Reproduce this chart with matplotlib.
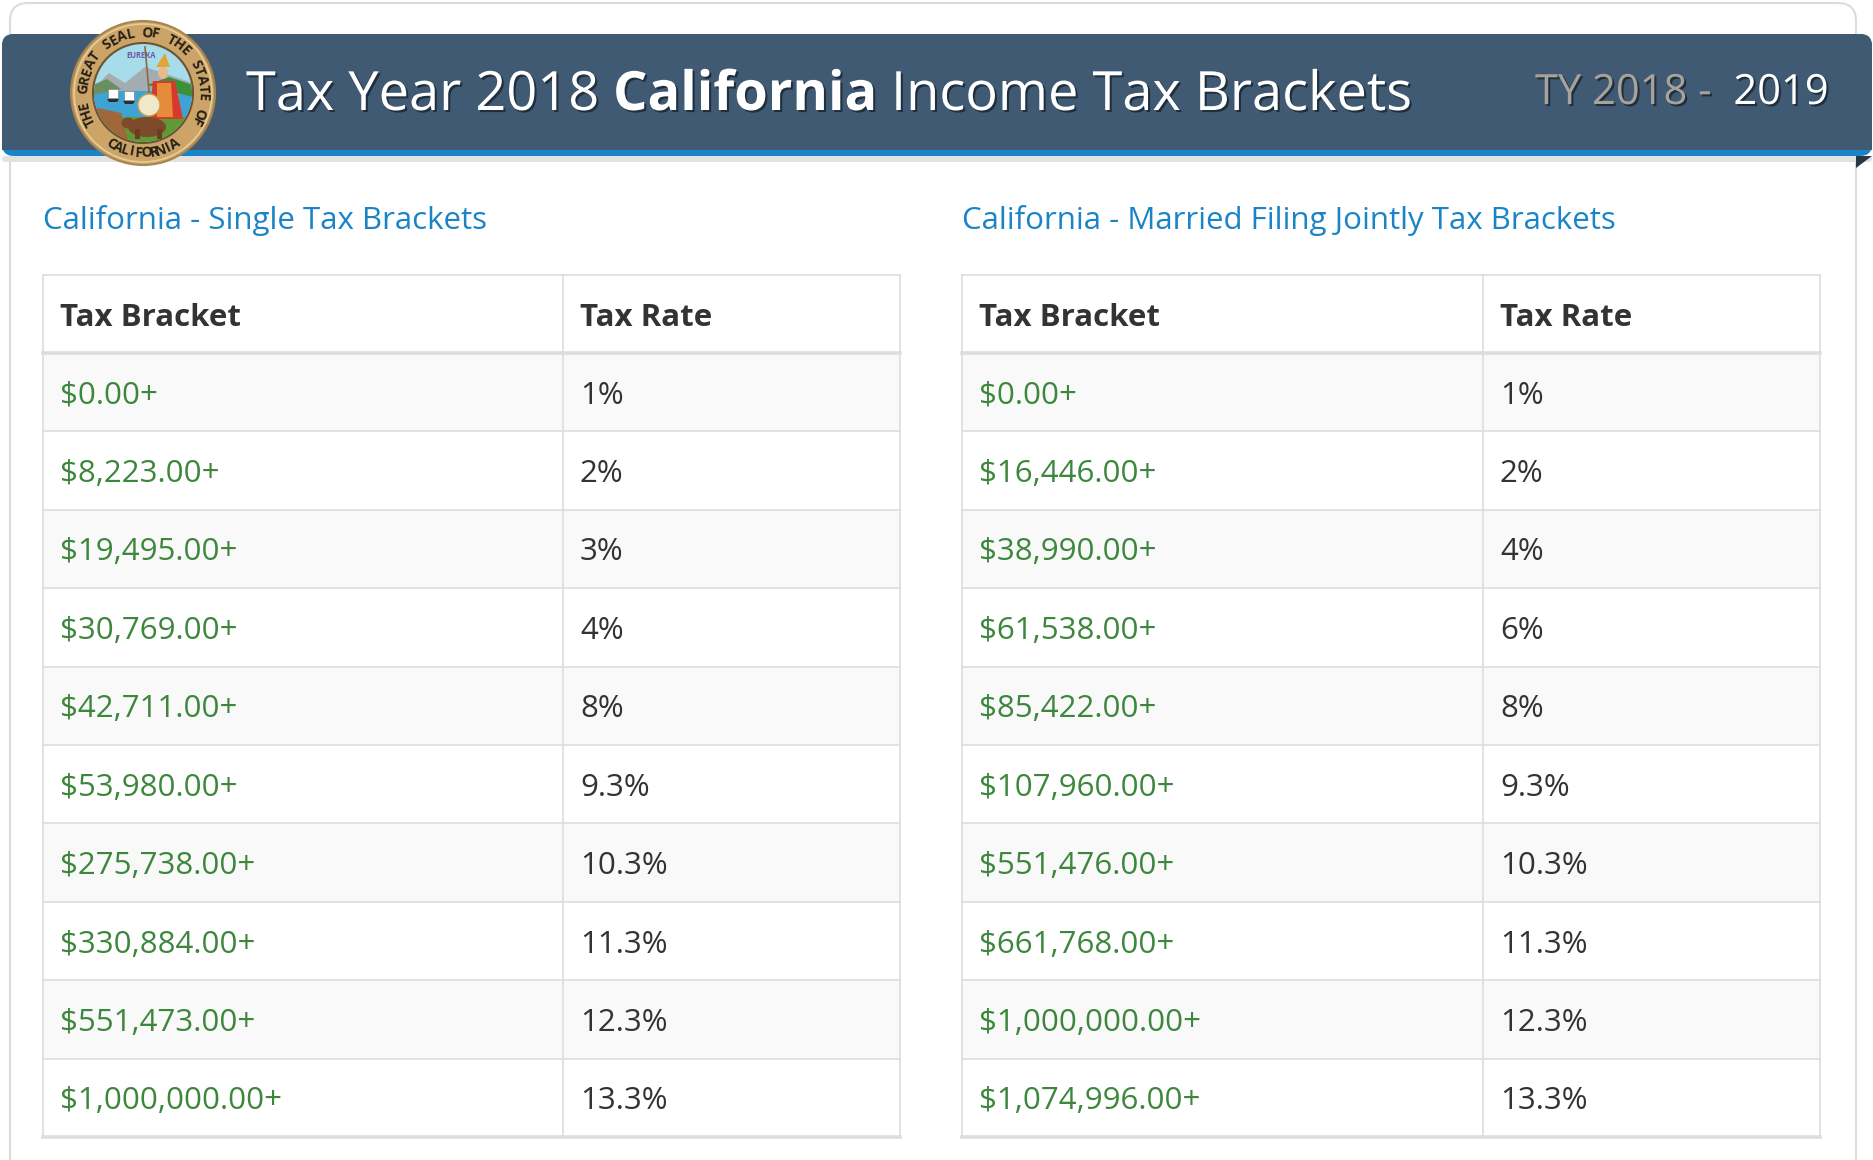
import matplotlib
matplotlib.use("Agg")
import matplotlib.pyplot as plt
import matplotlib.patheffects as pe
from matplotlib.patches import Rectangle, FancyBboxPatch, Circle, Polygon, Ellipse
import numpy as np

# ---- data ----
single_brackets = ["$0.00+", "$8,223.00+", "$19,495.00+", "$30,769.00+", "$42,711.00+",
                   "$53,980.00+", "$275,738.00+", "$330,884.00+", "$551,473.00+", "$1,000,000.00+"]
single_rates = ["1%", "2%", "3%", "4%", "8%", "9.3%", "10.3%", "11.3%", "12.3%", "13.3%"]

joint_brackets = ["$0.00+", "$16,446.00+", "$38,990.00+", "$61,538.00+", "$85,422.00+",
                  "$107,960.00+", "$551,476.00+", "$661,768.00+", "$1,000,000.00+", "$1,074,996.00+"]
joint_rates = ["1%", "2%", "4%", "6%", "8%", "9.3%", "10.3%", "11.3%", "12.3%", "13.3%"]

col_headers = ["Tax Bracket", "Tax Rate"]
table_titles = ["California - Single Tax Brackets", "California - Married Filing Jointly Tax Brackets"]

FONT = "Open Sans"
W, H = 1874, 1160

fig = plt.figure(figsize=(W / 100, H / 100), dpi=100)
ax = fig.add_axes([0, 0, 1, 1])
ax.set_xlim(0, W)
ax.set_ylim(H, 0)
ax.axis("off")
fig.patch.set_facecolor("white")

# outer card
ax.add_patch(FancyBboxPatch((10, 3), 1846, 1300, boxstyle="round,pad=0,rounding_size=18",
                            fc="white", ec="#dcdcdc", lw=1.5, zorder=0))

# header ribbon
ax.add_patch(FancyBboxPatch((2, 156), 1870, 6, boxstyle="round,pad=0,rounding_size=3",
                            fc="#e2e2e2", ec="none", zorder=1))
ax.add_patch(FancyBboxPatch((2, 34), 1870, 122, boxstyle="round,pad=0,rounding_size=12",
                            fc="#1a84c6", ec="none", zorder=2))
ax.add_patch(FancyBboxPatch((2, 34), 1870, 116, boxstyle="round,pad=0,rounding_size=12",
                            fc="#3f5a72", ec="none", zorder=3))
ax.add_patch(Rectangle((2, 120), 1870, 30, fc="#3f5a72", ec="none", zorder=3))
ax.add_patch(Polygon([(1856, 156), (1872, 156), (1856, 168)], closed=True,
                     fc="#2a3846", ec="none", zorder=3))

# ---- seal ----
cx, cy, r = 143, 93, 72
ax.add_patch(Circle((cx, cy), r, fc="#cca467", ec="#a9854d", lw=1.5, zorder=5))
ax.add_patch(Circle((cx, cy), r - 3, fc="none", ec="#e6cc98", lw=1.2, zorder=6))
ax.add_patch(Circle((cx, cy), r - 22, fc="#a7dcea", ec="#6b5433", lw=1.5, zorder=6))
inner = Circle((cx, cy), r - 23, transform=ax.transData)
scene = [
    Polygon([(cx - 50, cy - 4), (cx - 34, cy - 20), (cx - 18, cy - 10), (cx + 2, cy - 26),
             (cx + 50, cy - 10), (cx + 50, cy + 10), (cx - 50, cy + 10)], fc="#a3acb0", ec="none"),
    Rectangle((cx - 50, cy - 2), 100, 30, fc="#3ea3d2", ec="none"),
    Polygon([(cx - 50, cy - 8), (cx - 36, cy - 14), (cx - 22, cy - 4), (cx - 50, cy + 2)],
            fc="#6b8f5f", ec="none"),
    Polygon([(cx + 4, cy - 8), (cx + 26, cy - 16), (cx + 50, cy - 8), (cx + 50, cy + 4)],
            fc="#3f8f3a", ec="none"),
    Rectangle((cx - 50, cy + 24), 100, 30, fc="#5f9a35", ec="none"),
    Polygon([(cx - 50, cy + 14), (cx - 22, cy + 20), (cx - 14, cy + 50), (cx - 50, cy + 50)],
            fc="#a0683a", ec="none"),
]
for p in scene:
    p.set_zorder(7)
    ax.add_patch(p)
    p.set_clip_path(inner)
# ships
for sx, sy in ((cx - 30, cy + 2), (cx - 14, cy + 4), (cx + 30, cy + 6)):
    ax.add_patch(Polygon([(sx - 6, sy + 4), (sx + 6, sy + 4), (sx + 4, sy + 7), (sx - 4, sy + 7)],
                         fc="#2d2d2d", ec="none", zorder=8))
    ax.add_patch(Rectangle((sx - 5, sy - 6), 10, 9, fc="white", ec="#777777", lw=0.4, zorder=8))
# minerva figure
ax.add_patch(Ellipse((cx + 20, cy - 20), 10, 12, fc="#e9b98a", ec="none", zorder=9))
ax.add_patch(Polygon([(cx + 13, cy - 26), (cx + 27, cy - 26), (cx + 22, cy - 40)],
                     fc="#e0a536", ec="none", zorder=9))
ax.add_patch(Polygon([(cx + 10, cy - 12), (cx + 32, cy - 12), (cx + 40, cy + 26), (cx + 6, cy + 26)],
                     fc="#d7392c", ec="none", zorder=9))
ax.add_patch(Polygon([(cx + 14, cy - 10), (cx + 28, cy - 10), (cx + 30, cy + 24), (cx + 14, cy + 24)],
                     fc="#e58b3a", ec="none", zorder=9))
ax.add_patch(Circle((cx + 6, cy + 12), 11, fc="#f1e7c9", ec="#c9a24e", lw=1, zorder=10))
ax.plot([cx + 2, cx + 8], [cy - 46, cy + 20], color="#8a6b3a", lw=1.2, zorder=9)
# bear
ax.add_patch(Ellipse((cx + 4, cy + 34), 38, 20, fc="#7d4b2a", ec="none", zorder=10))
ax.add_patch(Ellipse((cx - 15, cy + 30), 13, 11, fc="#7d4b2a", ec="none", zorder=10))
for lx in (cx - 8, cx + 14):
    ax.add_patch(Rectangle((lx, cy + 36), 5, 10, fc="#6b3e22", ec="none", zorder=10))
ax.text(cx - 2, cy - 38, "EUREKA", fontsize=5.5, color="#6a5aa8", ha="center", va="center",
        family=FONT, weight="bold", zorder=9)

# ring lettering
def arc_text(s, start_deg, end_deg, rad, bottom=False):
    angs = np.linspace(start_deg, end_deg, len(s))
    for ch, a in zip(s, angs):
        t = np.deg2rad(a)
        x = cx + rad * np.cos(t)
        y = cy - rad * np.sin(t)
        rot = a + 90 if bottom else a - 90
        ax.text(x, y, ch, fontsize=10, weight="bold", color="#262018", family=FONT,
                ha="center", va="center", rotation=rot, zorder=11)

arc_text("THE GREAT SEAL OF THE STATE OF", 208, -28, r - 12)
arc_text("CALIFORNIA", 238, 302, r - 12, bottom=True)

# ---- title ----
renderer = fig.canvas.get_renderer()
shadow = [pe.withSimplePatchShadow(offset=(1.5, -1.5), shadow_rgbFace="#1d2b38", alpha=0.9)]

def put(x, y, s, size, color, weight="normal"):
    t = ax.text(x, y, s, fontsize=size, color=color, family=FONT, weight=weight,
                ha="left", va="baseline", zorder=12, path_effects=shadow)
    return t, t.get_window_extent(renderer).width

def space_w(size, weight="normal"):
    a = ax.text(0, 0, "a a", fontsize=size, family=FONT, weight=weight)
    b = ax.text(0, 0, "aa", fontsize=size, family=FONT, weight=weight)
    w = a.get_window_extent(renderer).width - b.get_window_extent(renderer).width
    a.remove()
    b.remove()
    return w

ts = 39
sp = space_w(ts)
x = 246
title_y = 110
_, w = put(x, title_y, "Tax Year 2018", ts, "white")
x += w + sp
_, w = put(x, title_y, "California", ts, "white", weight="bold")
x += w + sp
put(x, title_y, "Income Tax Brackets", ts, "white")

ys = 30
_, w = put(1535, 104, "TY 2018 -", ys, "#a8a29c")
put(1535 + w + space_w(ys) * 2, 104, "2019", ys, "white")

# ---- tables ----
tables = [(single_brackets, single_rates, 43, 563, 900),
          (joint_brackets, joint_rates, 962, 1483, 1820)]
head_top, head_bot = 275, 353
row_h = 78.4
border = "#dddddd"
fs = 22.5

for k, (brackets, rates, x0, xd, x1) in enumerate(tables):
    ax.text(x0, 229, table_titles[k], fontsize=22.5, color="#1a84c6", family=FONT,
            ha="left", va="baseline")
    n = len(brackets)
    bottom = head_bot + n * row_h
    for i in range(n):
        top = head_bot + i * row_h
        fc = "#f9f9f9" if i % 2 == 0 else "white"
        ax.add_patch(Rectangle((x0, top), x1 - x0, row_h, fc=fc, ec="none", zorder=1))
        ax.plot([x0, x1], [top + row_h, top + row_h], color=border, lw=1.2, zorder=2)
        ty = top + row_h / 2 + 11.5
        ax.text(x0 + 17, ty, brackets[i], fontsize=fs, color="#3d873d", family=FONT,
                ha="left", va="baseline", zorder=3)
        ax.text(xd + 17, ty, rates[i], fontsize=fs, color="#333333", family=FONT,
                ha="left", va="baseline", zorder=3)
    # header
    for j, hx in enumerate((x0, xd)):
        ax.text(hx + 17, (head_top + head_bot) / 2 + 11.5, col_headers[j], fontsize=fs,
                color="#333333", family=FONT, weight="bold", ha="left", va="baseline", zorder=3)
    ax.plot([x0, x1], [head_top, head_top], color=border, lw=1.2, zorder=2)
    ax.plot([x0, x1], [head_bot, head_bot], color=border, lw=2.6, zorder=2)
    ax.plot([x0, x1], [bottom, bottom], color=border, lw=2.6, zorder=2)
    for vx in (x0, xd, x1):
        ax.plot([vx, vx], [head_top, bottom], color=border, lw=1.2, zorder=2)

fig.savefig("out.png", dpi=100)
